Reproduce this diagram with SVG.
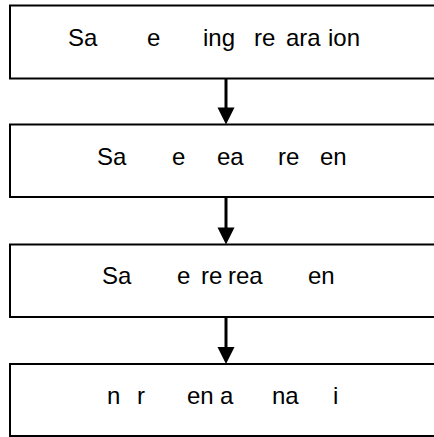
<svg xmlns="http://www.w3.org/2000/svg" width="434" height="437" viewBox="0 0 434 437">
<defs>
<style>
.box{fill:#fff;stroke:#000;stroke-width:2}
.t{font-family:"Liberation Sans",Arial,sans-serif;font-size:24px;fill:#000}
.sh{stroke:#000;stroke-width:3;fill:none}
.hd{fill:#000;stroke:none}
</style>
</defs>
<rect width="434" height="437" fill="#fff"/>
<g id="node1">
<rect class="box" x="10" y="5.5" width="430" height="73"/>
<text class="t" y="46"><tspan x="68">Sa</tspan><tspan x="147">e</tspan><tspan x="203">ing</tspan><tspan x="254">re</tspan><tspan x="286">ara</tspan><tspan x="328">ion</tspan></text>
</g>
<g id="node2">
<rect class="box" x="10" y="124.5" width="430" height="72.5"/>
<text class="t" y="165"><tspan x="97">Sa</tspan><tspan x="172">e</tspan><tspan x="217">ea</tspan><tspan x="278">re</tspan><tspan x="320">en</tspan></text>
</g>
<g id="node3">
<rect class="box" x="10" y="244.5" width="430" height="72.5"/>
<text class="t" y="284"><tspan x="102">Sa</tspan><tspan x="177">e</tspan><tspan x="201">re</tspan><tspan x="228">rea</tspan><tspan x="308">en</tspan></text>
</g>
<g id="node4">
<rect class="box" x="10" y="364" width="430" height="72"/>
<text class="t" y="404"><tspan x="107">n</tspan><tspan x="137">r</tspan><tspan x="187">en</tspan><tspan x="220">a</tspan><tspan x="272">na</tspan><tspan x="333">i</tspan></text>
</g>
<g id="connectors">
<line class="sh" x1="226" y1="79" x2="226" y2="110"/>
<polygon class="hd" points="217.5,107.5 234.5,107.5 226,124.5"/>
<line class="sh" x1="226" y1="198" x2="226" y2="229"/>
<polygon class="hd" points="217.5,227.5 234.5,227.5 226,244.5"/>
<line class="sh" x1="226" y1="318" x2="226" y2="349"/>
<polygon class="hd" points="217.5,347 234.5,347 226,364"/>
</g>
</svg>
